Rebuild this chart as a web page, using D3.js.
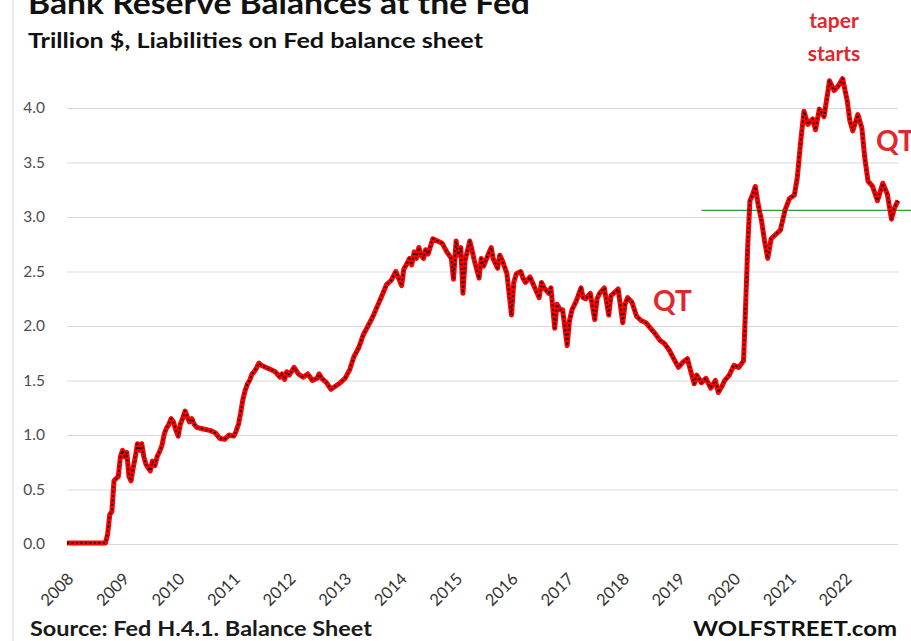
<!DOCTYPE html>
<html>
<head>
<meta charset="utf-8">
<script src="https://cdn.jsdelivr.net/npm/d3@7"></script>
<style>
  body { margin: 0; background: #fff; }
  text { font-family: Lato, "Open Sans", sans-serif; }
</style>
</head>
<body>
<div id="chart"></div>
<script>
// reserve balances, trillion $
const dates = [
  "2008-01-01","2008-04-01","2008-07-01","2008-09-10","2008-09-24","2008-10-08","2008-10-22","2008-11-05","2008-11-19","2008-12-03","2008-12-17","2008-12-31",
  "2009-01-14","2009-01-28","2009-02-11","2009-02-25","2009-03-11","2009-03-25","2009-04-08","2009-04-22","2009-05-06","2009-05-20","2009-06-03","2009-06-17",
  "2009-07-01","2009-07-15","2009-08-01","2009-08-15","2009-09-01","2009-09-15","2009-10-01","2009-10-15","2009-11-01","2009-11-15","2009-12-01","2009-12-15",
  "2010-01-01","2010-01-15","2010-02-01","2010-02-15","2010-03-01","2010-03-15","2010-04-01","2010-04-15","2010-05-01","2010-06-01","2010-07-01","2010-08-01",
  "2010-09-01","2010-10-01","2010-11-01","2010-12-01","2011-01-01","2011-01-15","2011-02-01","2011-02-15","2011-03-01","2011-03-15","2011-04-01","2011-04-15",
  "2011-05-01","2011-05-15","2011-06-01","2011-06-15","2011-07-01","2011-08-01","2011-09-01","2011-10-01","2011-11-01","2011-11-15","2011-12-01","2011-12-15",
  "2012-01-01","2012-02-01","2012-03-01","2012-04-01","2012-05-01","2012-06-01","2012-07-01","2012-07-15","2012-08-01","2012-09-01","2012-10-01","2012-11-01",
  "2012-12-01","2013-01-01","2013-02-01","2013-03-01","2013-04-01","2013-05-01","2013-06-01","2013-07-01","2013-08-01","2013-09-01","2013-10-01","2013-11-01",
  "2013-12-01","2014-01-08","2014-01-22","2014-02-15","2014-03-01","2014-03-15","2014-04-01","2014-04-15","2014-05-01","2014-05-15","2014-06-01","2014-06-15",
  "2014-07-01","2014-08-01","2014-09-01","2014-10-01","2014-11-01","2014-12-01","2014-12-15","2015-01-01","2015-01-15","2015-02-01","2015-02-15","2015-03-01",
  "2015-04-01","2015-04-15","2015-05-01","2015-06-01","2015-06-15","2015-07-01","2015-08-01","2015-08-20","2015-09-01","2015-10-01","2015-10-15","2015-11-01",
  "2015-12-01","2015-12-31","2016-01-15","2016-02-01","2016-03-01","2016-03-15","2016-04-01","2016-05-01","2016-06-01","2016-06-30","2016-07-15","2016-08-01",
  "2016-09-01","2016-09-15","2016-10-10","2016-10-25","2016-11-15","2016-12-01","2016-12-31","2017-01-15","2017-02-01","2017-03-01","2017-04-01","2017-04-15",
  "2017-05-01","2017-06-01","2017-06-30","2017-07-15","2017-08-01","2017-09-01","2017-09-30","2017-10-15","2017-11-01","2017-12-01","2017-12-31","2018-01-15",
  "2018-02-01","2018-03-01","2018-04-01","2018-05-01","2018-06-01","2018-07-01","2018-08-01","2018-09-01","2018-10-01","2018-11-01","2018-12-01","2019-01-01",
  "2019-02-01","2019-03-01","2019-03-20","2019-04-15","2019-05-01","2019-06-01","2019-07-01","2019-08-01","2019-09-01","2019-09-20","2019-10-15","2019-11-01",
  "2019-12-01","2020-01-01","2020-02-01","2020-03-04","2020-03-18","2020-04-01","2020-04-15","2020-05-01","2020-05-20","2020-06-10","2020-07-01","2020-07-20",
  "2020-08-10","2020-09-01","2020-10-01","2020-11-01","2020-12-01","2020-12-31","2021-02-01","2021-02-20","2021-03-15","2021-04-05","2021-05-01","2021-06-01",
  "2021-06-20","2021-07-15","2021-08-15","2021-09-20","2021-10-20","2021-11-15","2021-12-15","2022-01-15","2022-02-01","2022-02-20","2022-03-25","2022-04-20",
  "2022-05-10","2022-05-31","2022-06-30","2022-08-01","2022-09-05","2022-10-05","2022-11-01","2022-11-20","2022-12-14"
];
const values = [
  0.01,0.01,0.01,0.01,0.09,0.27,0.30,0.58,0.60,0.62,0.80,0.86,
  0.80,0.84,0.62,0.58,0.70,0.80,0.92,0.86,0.92,0.80,0.73,0.70,
  0.67,0.76,0.72,0.80,0.85,0.90,1.01,1.06,1.10,1.15,1.12,1.05,
  0.99,1.10,1.16,1.22,1.17,1.12,1.15,1.10,1.07,1.06,1.05,1.04,
  1.02,0.97,0.96,1.00,0.99,1.03,1.10,1.20,1.32,1.40,1.47,1.50,
  1.56,1.58,1.62,1.66,1.64,1.62,1.60,1.58,1.53,1.56,1.51,1.58,
  1.55,1.62,1.56,1.53,1.56,1.50,1.52,1.56,1.52,1.48,1.42,1.45,
  1.48,1.52,1.60,1.72,1.80,1.92,2.00,2.08,2.18,2.28,2.38,2.42,
  2.50,2.37,2.52,2.58,2.62,2.56,2.68,2.62,2.72,2.65,2.62,2.70,
  2.66,2.80,2.78,2.76,2.68,2.62,2.43,2.78,2.65,2.72,2.30,2.60,
  2.78,2.70,2.60,2.44,2.62,2.55,2.66,2.72,2.62,2.53,2.65,2.60,
  2.48,2.10,2.40,2.48,2.50,2.44,2.40,2.45,2.35,2.26,2.40,2.35,
  2.30,2.35,1.98,2.20,2.15,2.15,1.82,2.05,2.15,2.23,2.35,2.26,
  2.25,2.30,2.06,2.25,2.30,2.35,2.10,2.28,2.30,2.34,2.03,2.20,
  2.26,2.22,2.09,2.05,2.03,1.98,1.93,1.87,1.84,1.78,1.70,1.62,
  1.67,1.70,1.60,1.47,1.55,1.48,1.52,1.43,1.50,1.39,1.45,1.50,
  1.55,1.64,1.62,1.68,2.20,2.75,3.15,3.20,3.28,3.10,2.96,2.78,
  2.62,2.80,2.84,2.88,3.06,3.17,3.20,3.36,3.70,3.97,3.85,3.90,
  3.80,3.99,3.92,4.25,4.16,4.20,4.27,4.06,3.88,3.79,3.94,3.82,
  3.54,3.33,3.28,3.15,3.31,3.21,2.98,3.08,3.15
];
const yTicks = [0, 0.5, 1.0, 1.5, 2.0, 2.5, 3.0, 3.5, 4.0];
const years = d3.range(2008, 2023);
const referenceLevel = 3.06;
const referenceStart = "2019-06-01";

const width = 911, height = 641;
const parse = d3.timeParse("%Y-%m-%d");
const series = dates.map((d, i) => ({ date: parse(d), value: values[i] }));

const svg = d3.select("#chart").append("svg")
  .attr("width", width)
  .attr("height", height);

const x = d3.scaleTime()
  .domain([new Date(2008, 0, 1), new Date(2022, 11, 14)])
  .range([67, 898]);
const y = d3.scaleLinear()
  .domain([0, 4])
  .range([544, 108]);

// left frame edge
svg.append("line")
  .attr("x1", 13).attr("x2", 13)
  .attr("y1", 0).attr("y2", height)
  .attr("stroke", "#d3d7de");

// y axis with gridlines
const yAxis = svg.append("g")
  .attr("transform", "translate(67,0)")
  .call(d3.axisLeft(y).tickValues(yTicks).tickFormat(d3.format(".1f"))
    .tickSize(-(898 - 67)).tickPadding(22));
yAxis.select(".domain").remove();
yAxis.selectAll(".tick line").attr("stroke", "#d9d9d9").attr("stroke-width", 1.2);
yAxis.selectAll(".tick text")
  .attr("fill", "#4d4d4d")
  .style("font-size", "15.5px");

// x axis: rotated year labels
const xAxis = svg.append("g")
  .attr("transform", "translate(0,544)")
  .call(d3.axisBottom(x).tickValues(years.map(yr => new Date(yr, 0, 1)))
    .tickFormat(d3.timeFormat("%Y")).tickSize(0));
xAxis.select(".domain").remove();
xAxis.selectAll(".tick text")
  .attr("x", 0).attr("y", 0).attr("dy", 0)
  .attr("text-anchor", "end")
  .attr("transform", "translate(7,36) rotate(-45)")
  .attr("fill", "#333")
  .style("font-size", "16.5px");

// green reference line
svg.append("line")
  .attr("x1", x(parse(referenceStart))).attr("x2", width)
  .attr("y1", y(referenceLevel)).attr("y2", y(referenceLevel))
  .attr("stroke", "#2e9a3e")
  .attr("stroke-width", 1.3);

// the series: thick red with black markers on top
const line = d3.line()
  .x(d => x(d.date))
  .y(d => y(d.value));

svg.append("path")
  .datum(series)
  .attr("fill", "none")
  .attr("stroke", "#ff0000")
  .attr("stroke-width", 5)
  .attr("stroke-linejoin", "round")
  .attr("d", line);

svg.append("path")
  .datum(series)
  .attr("fill", "none")
  .attr("stroke", "#1a0000")
  .attr("stroke-width", 1.8)
  .attr("stroke-dasharray", "2,2.5")
  .attr("stroke-linejoin", "round")
  .attr("d", line);

// titles
svg.append("text")
  .attr("x", 28).attr("y", 14)
  .attr("textLength", 502).attr("lengthAdjust", "spacingAndGlyphs")
  .style("font-size", "31px").style("font-weight", 700)
  .attr("fill", "#111")
  .text("Bank Reserve Balances at the Fed");

svg.append("text")
  .attr("x", 28).attr("y", 48)
  .attr("textLength", 455).attr("lengthAdjust", "spacingAndGlyphs")
  .style("font-size", "20px").style("font-weight", 700)
  .attr("fill", "#111")
  .text("Trillion $, Liabilities on Fed balance sheet");

// annotations
const red = "#e3262b";
svg.append("text")
  .attr("x", 834).attr("y", 28)
  .attr("text-anchor", "middle")
  .style("font-size", "21px").style("font-weight", 700)
  .attr("fill", red)
  .text("taper");
svg.append("text")
  .attr("x", 834).attr("y", 61)
  .attr("text-anchor", "middle")
  .style("font-size", "21px").style("font-weight", 700)
  .attr("fill", red)
  .text("starts");
svg.append("text")
  .attr("x", 876).attr("y", 151)
  .style("font-size", "28px").style("font-weight", 700)
  .attr("fill", red)
  .text("QT");
svg.append("text")
  .attr("x", 653).attr("y", 311)
  .style("font-size", "28px").style("font-weight", 700)
  .attr("fill", red)
  .text("QT");

// footer
svg.append("text")
  .attr("x", 30).attr("y", 636)
  .attr("textLength", 342).attr("lengthAdjust", "spacingAndGlyphs")
  .style("font-size", "21px").style("font-weight", 700)
  .attr("fill", "#1a1a1a")
  .text("Source: Fed H.4.1. Balance Sheet");
svg.append("text")
  .attr("x", 693).attr("y", 636)
  .attr("textLength", 204).attr("lengthAdjust", "spacingAndGlyphs")
  .style("font-size", "21px").style("font-weight", 700)
  .attr("fill", "#111")
  .text("WOLFSTREET.com");
</script>
</body>
</html>
